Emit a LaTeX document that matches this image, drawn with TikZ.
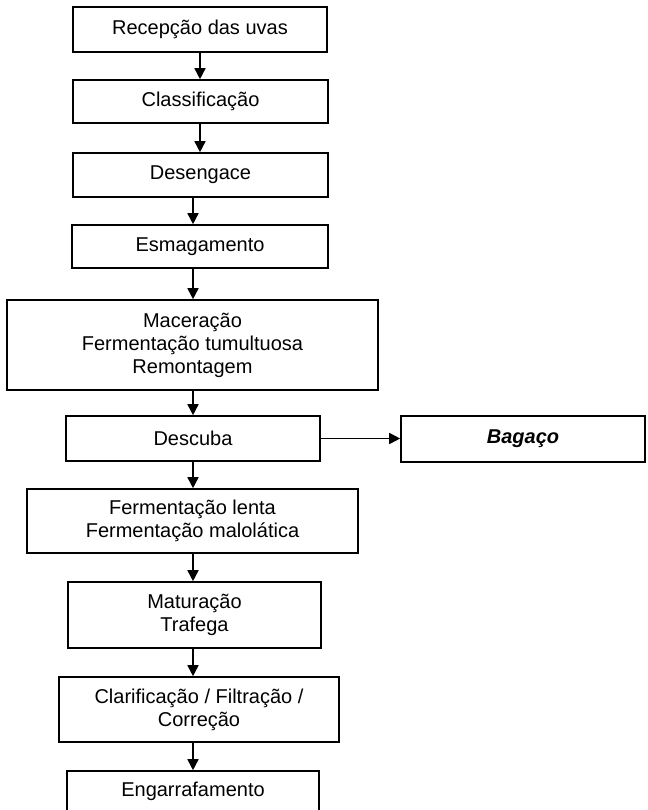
\documentclass[tikz,border=0pt]{standalone}
\usepackage{fontspec}
\setmainfont{Liberation Sans}
\usetikzlibrary{arrows.meta}

\begin{document}
\begin{tikzpicture}[x=1pt,y=-1pt,line width=1.6pt,
  etapa/.style={draw=black,fill=white,inner sep=0pt,align=center,
    font=\fontsize{20}{23}\selectfont},
  seta/.style={-{Triangle[length=11pt,width=11pt]}}]
\clip (0,0) rectangle (647,810);
\fill [white] (0,0) rectangle (647,810);
\coordinate (eixo) at (193,0);
\node [etapa,minimum width=254pt,minimum height=45pt] (rec) at (200,29.5) {Recepção das uvas};
\node [etapa,minimum width=255pt,minimum height=43pt] (cla) at (200.5,101.5) {Classificação};
\node [etapa,minimum width=255pt,minimum height=44pt] (des) at (200.5,175) {Desengace};
\node [etapa,minimum width=256pt,minimum height=43pt] (esm) at (200,246.5) {Esmagamento};
\node [etapa,minimum width=371pt,minimum height=90pt] (mac) at (192.5,345) {Maceração\\Fermentação tumultuosa\\Remontagem};
\node [etapa,minimum width=254pt,minimum height=45pt] (desc) at (193,438.5) {Descuba};
\node [etapa,minimum width=244pt,minimum height=46pt] (bag) at (523,439) {\bfseries\itshape Bagaço};
\node [etapa,minimum width=331pt,minimum height=64pt] (ferm) at (192.5,521) {Fermentação lenta\\Fermentação malolática};
\node [etapa,minimum width=253pt,minimum height=66pt] (mat) at (194.5,615) {Maturação\\Trafega};
\node [etapa,minimum width=280pt,minimum height=65pt] (clar) at (199,709.5) {Clarificação / Filtração /\\Correção};
\node [etapa,minimum width=252pt,minimum height=41pt] (eng) at (193,791.5) {Engarrafamento};
\draw [seta] (rec.south) -- (rec.south |- cla.north);
\draw [seta] (rec.south |- cla.south) -- (rec.south |- des.north);
\draw [seta] (eixo |- des.south) -- (eixo |- esm.north);
\draw [seta] (eixo |- esm.south) -- (eixo |- mac.north);
\draw [seta] (eixo |- mac.south) -- (eixo |- desc.north);
\draw [seta] (desc.east) -- (desc.east -| bag.west);
\draw [seta] (eixo |- desc.south) -- (eixo |- ferm.north);
\draw [seta] (eixo |- ferm.south) -- (eixo |- mat.north);
\draw [seta] (eixo |- mat.south) -- (eixo |- clar.north);
\draw [seta] (eixo |- clar.south) -- (eixo |- eng.north);
\end{tikzpicture}
\end{document}
